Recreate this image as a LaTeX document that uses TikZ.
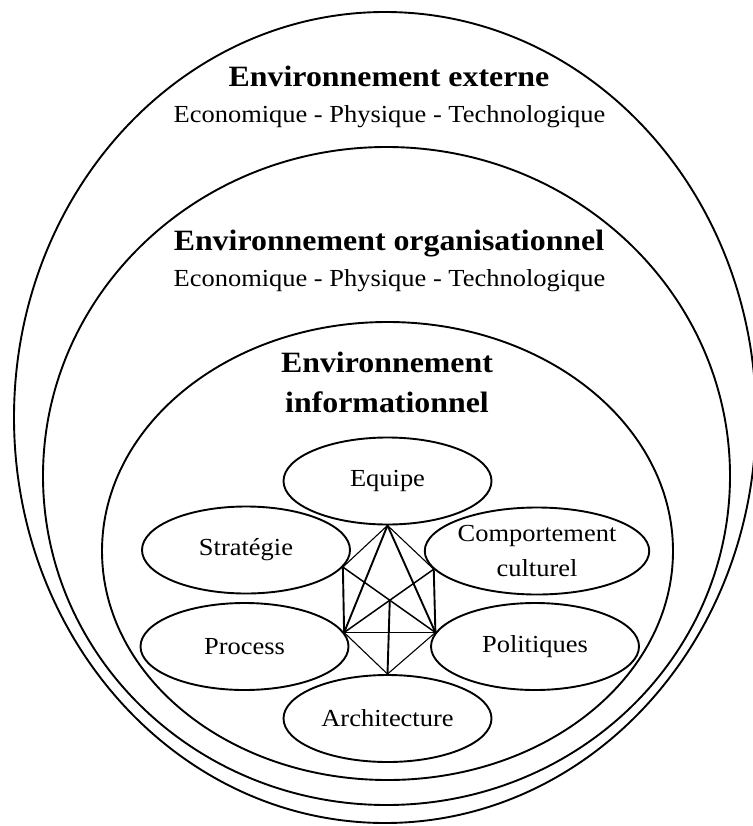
\documentclass[tikz,border=0pt]{standalone}
\usepackage{fontspec}
\setmainfont{Liberation Serif}[FakeStretch=1.08]
\usepackage{tikz}
\usetikzlibrary{shapes.geometric,calc}

\tikzset{
  envtitle/.style={font=\bfseries\fontsize{29.5}{40}\selectfont, align=center},
  envsub/.style={font=\fontsize{24.5}{28}\selectfont},
  pole/.style={ellipse, draw, line width=1.9pt, minimum width=208pt, minimum height=87pt,
    inner sep=0pt, align=center, font=\fontsize{24.5}{35}\selectfont},
  fort/.style={line width=1.9pt},
  moyen/.style={line width=1.5pt},
  fin/.style={line width=1.1pt}
}

\begin{document}
\begin{tikzpicture}[x=1pt,y=-1pt,line join=round]
\useasboundingbox (0,0) rectangle (752,826);
% les trois environnements
\draw[line width=1.9pt] (385,417.5) ellipse [x radius=371, y radius=405.5];
\draw[line width=1.9pt] (386.5,476) ellipse [x radius=343.5, y radius=329];
\draw[line width=1.9pt] (387.5,551) ellipse [x radius=285.5, y radius=229];

\node[envtitle, anchor=base] (ext) at (389,87) {Environnement externe};
\node[envsub, anchor=base] (extsub) at (389.5,123) {Economique - Physique - Technologique};
\node[envtitle, anchor=base] (org) at (389,250) {Environnement organisationnel};
\node[envsub, anchor=base] (orgsub) at (389.5,286) {Economique - Physique - Technologique};
\node[envtitle] (info) at (387,382.5) {Environnement\\informationnel};

% les six poles
\node[pole] (equipe) at (387.5,481) {Equipe};
\node[pole] (strat) at (246,550) {Stratégie};
\node[pole] (compo) at (537,551) {Comportement\\culturel};
\node[pole] (process) at (244.5,646.5) {Process};
\node[pole] (polit) at (535,646.5) {Politiques};
\node[pole] (archi) at (387.5,718.5) {Architecture};

\coordinate (ul) at (strat.-10);
\coordinate (ur) at (compo.-170);
\coordinate (ll) at (process.8);
\coordinate (lr) at (polit.172);
\coordinate (croix) at (intersection of ul--lr and ur--ll);

% liaisons
\foreach \a/\b in {equipe.south/ll, equipe.south/lr, ul/ll, ur/lr, ll/lr, croix/archi.north}
  \draw[fort] (\a) -- (\b);
\foreach \a/\b in {ul/lr, ur/ll}
  \draw[moyen] (\a) -- (\b);
\foreach \a/\b in {equipe.south/ul, equipe.south/ur, ll/archi.north, lr/archi.north}
  \draw[fin] (\a) -- (\b);
\end{tikzpicture}
\end{document}
